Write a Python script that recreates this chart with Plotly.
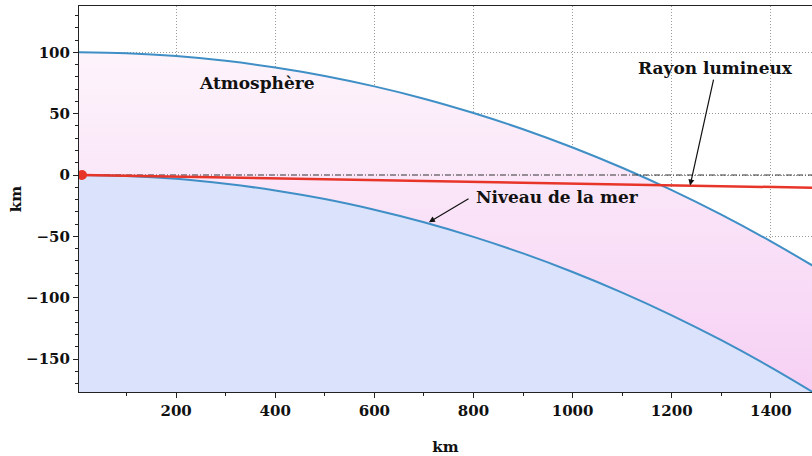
import plotly.graph_objects as go

# distances (km)
x_km = [0, 100, 200, 300, 400, 500, 600, 700, 800, 900, 1000, 1100, 1200, 1300, 1400, 1500]
# sea level (earth surface) altitude, km
sea_level = [0, -0.8, -3.1, -7.1, -12.6, -19.6, -28.3, -38.5, -50.4, -63.9, -79.0, -95.8, -114.3, -134.6, -156.7, -180.6]
# top of atmosphere, km
atmo_top = [100, 99.2, 96.9, 93.0, 87.6, 80.7, 72.2, 62.2, 50.5, 37.3, 22.4, 5.9, -12.3, -32.3, -54.1, -77.6]
# floor under the plot for filling
floor = [-300] * len(x_km)
# light ray
ray_x = [10, 500, 1000, 1500]
ray_y = [0, -3.4, -6.9, -10.5]
# horizon line
hz_x = [10, 1500]
hz_y = [0, 0]

FONT = "DejaVu Serif"
BLUE = "#3f8fc6"
RED = "#e8352a"

fig = go.Figure()
fig.add_trace(go.Scatter(x=x_km, y=floor, mode="lines", line=dict(width=0), showlegend=False, hoverinfo="skip"))
fig.add_trace(go.Scatter(x=x_km, y=sea_level, mode="lines", line=dict(color=BLUE, width=2, shape="spline"),
                         fill="tonexty", fillcolor="#dbe3fc", showlegend=False))
fig.add_trace(go.Scatter(x=x_km, y=atmo_top, mode="lines", line=dict(color=BLUE, width=2, shape="spline"),
                         fill="tonexty",
                         fillgradient=dict(type="vertical", start=-177, stop=100,
                                           colorscale=[[0, "#f6d0f4"], [1, "#fdf4fb"]]),
                         showlegend=False))
fig.add_trace(go.Scatter(x=hz_x, y=hz_y, mode="lines", line=dict(color="#333333", width=1, dash="6px,2px,1px,2px"),
                         showlegend=False))
fig.add_trace(go.Scatter(x=ray_x, y=ray_y, mode="lines", line=dict(color=RED, width=2.5), showlegend=False))
fig.add_trace(go.Scatter(x=[ray_x[0]], y=[ray_y[0]], mode="markers", marker=dict(color=RED, size=10),
                         showlegend=False))

tickfont = dict(family=FONT, size=15, color="#111111", weight="bold")
grid = dict(showgrid=True, gridcolor="#9a9a9a", griddash="1px,2px", gridwidth=1, zeroline=False)
fig.update_xaxes(range=[4, 1483], showline=True, linecolor="#222222", linewidth=1, mirror=True,
                 ticks="outside", ticklen=5, tickcolor="#222222", tickvals=[200, 400, 600, 800, 1000, 1200, 1400],
                 minor=dict(ticks="outside", ticklen=3, tickcolor="#222222", dtick=100, showgrid=False),
                 tickfont=tickfont, title=dict(text="km", font=tickfont, standoff=22), layer="above traces", **grid)
fig.update_yaxes(range=[-176.8, 137.7], showline=True, linecolor="#222222", linewidth=1, mirror=False,
                 ticks="outside", ticklen=5, tickcolor="#222222", tickvals=[-150, -100, -50, 0, 50, 100],
                 ticktext=["\u2212150", "\u2212100", "\u221250", "0", "50", "100"],
                 minor=dict(ticks="outside", ticklen=3, tickcolor="#222222", dtick=10, showgrid=False),
                 tickfont=tickfont, title=dict(text="km", font=tickfont, standoff=0), layer="above traces", **grid)

annfont = dict(family=FONT, size=17, color="#111111", weight="bold")
fig.add_annotation(x=364, y=75, text="Atmosphère", showarrow=False, font=annfont)
fig.add_annotation(x=1237, y=-8.6, ax=1285, ay=79, axref="x", ayref="y", text="", showarrow=True,
                   arrowhead=2, arrowsize=1, arrowwidth=1.2, arrowcolor="#111111")
fig.add_annotation(x=1288, y=87, text="Rayon lumineux", showarrow=False, font=annfont)
fig.add_annotation(x=710, y=-38.5, ax=793, ay=-18.7, axref="x", ayref="y", text="", showarrow=True,
                   arrowhead=2, arrowsize=1, arrowwidth=1.2, arrowcolor="#111111")
fig.add_annotation(x=969, y=-18, text="Niveau de la mer", showarrow=False, font=annfont)

fig.update_layout(width=812, height=456, margin=dict(l=79, r=0, t=6, b=64),
                  plot_bgcolor="white", paper_bgcolor="white", font=dict(family=FONT))
fig.write_html("out.html")
